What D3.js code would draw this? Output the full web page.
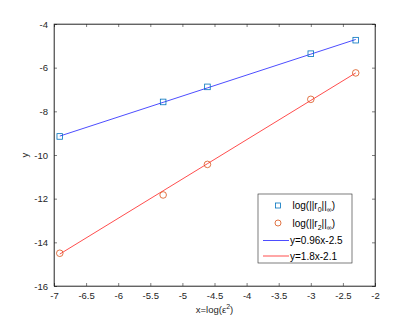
<!DOCTYPE html>
<html>
<head>
<meta charset="utf-8">
<script src="https://cdn.jsdelivr.net/npm/d3@7"></script>
<style>
  body { margin: 0; background: #fff; }
  text { font-family: "Liberation Sans", Helvetica, Arial, sans-serif; }
</style>
</head>
<body>
<div id="chart"></div>
<script>
// x = log(eps^2)
const xVals = [-6.91, -5.30, -4.61, -3.00, -2.30];
const r0Vals = [-9.15, -7.57, -6.88, -5.36, -4.74];
const r2Vals = [-14.5, -11.83, -10.43, -7.45, -6.24];
const fit0 = { a: 0.96, b: -2.5, label: "y=0.96x-2.5" };
const fit2 = { a: 1.8, b: -2.1, label: "y=1.8x-2.1" };
const xTicks = [-7, -6.5, -6, -5.5, -5, -4.5, -4, -3.5, -3, -2.5, -2];
const yTicks = [-16, -14, -12, -10, -8, -6, -4];

const W = 415, H = 321;
const margin = { top: 24, right: 40, bottom: 35, left: 54 };
const axisCol = "#262626";

const svg = d3.select("#chart").append("svg")
  .attr("width", W).attr("height", H);

const x = d3.scaleLinear().domain([-7, -2]).range([margin.left, W - margin.right]);
const y = d3.scaleLinear().domain([-16, -4]).range([H - margin.bottom, margin.top]);

// box
svg.append("rect")
  .attr("x", x(-7)).attr("y", y(-4))
  .attr("width", x(-2) - x(-7)).attr("height", y(-16) - y(-4))
  .attr("fill", "#fff").attr("stroke", axisCol).attr("stroke-width", 0.6);

// axes, ticks inside
const xAx = svg.append("g").attr("transform", `translate(0,${y(-16)})`)
  .call(d3.axisBottom(x).tickValues(xTicks).tickSize(-3).tickPadding(6).tickFormat(d3.format("")));
const xAxTop = svg.append("g").attr("transform", `translate(0,${y(-4)})`)
  .call(d3.axisTop(x).tickValues(xTicks).tickSize(-3).tickFormat(""));
const yAx = svg.append("g").attr("transform", `translate(${x(-7)},0)`)
  .call(d3.axisLeft(y).tickValues(yTicks).tickSize(-3).tickPadding(6).tickFormat(d3.format("")));
const yAxR = svg.append("g").attr("transform", `translate(${x(-2)},0)`)
  .call(d3.axisRight(y).tickValues(yTicks).tickSize(-3).tickFormat(""));

[xAx, xAxTop, yAx, yAxR].forEach(g => {
  g.select(".domain").attr("stroke", axisCol).attr("stroke-width", 0.6);
  g.selectAll(".tick line").attr("stroke", axisCol).attr("stroke-width", 0.6);
  g.selectAll("text").attr("fill", axisCol).attr("font-size", 9.5)
    .style("font-family", '"Liberation Sans", Arial, sans-serif');
});
// minus signs as hyphens like the original
svg.selectAll(".tick text").text(function () { return d3.select(this).text().replace("−", "-"); });

// fitted lines
const line = d3.line().x(d => x(d[0])).y(d => y(d[1]));
const fitLine = f => xVals.map(v => [v, f.a * v + f.b]);
svg.append("path").attr("d", line(fitLine(fit0)))
  .attr("fill", "none").attr("stroke", "#0000ff").attr("stroke-width", 0.7);
svg.append("path").attr("d", line(fitLine(fit2)))
  .attr("fill", "none").attr("stroke", "#ff0000").attr("stroke-width", 0.7);

// markers
svg.selectAll("rect.r0").data(xVals).enter().append("rect")
  .attr("class", "r0")
  .attr("x", (d, i) => x(d) - 2.8).attr("y", (d, i) => y(r0Vals[i]) - 2.8)
  .attr("width", 5.6).attr("height", 5.6)
  .attr("fill", "none").attr("stroke", "#0072BD").attr("stroke-width", 0.8);
svg.selectAll("circle.r2").data(xVals).enter().append("circle")
  .attr("class", "r2")
  .attr("cx", d => x(d)).attr("cy", (d, i) => y(r2Vals[i]))
  .attr("r", 3.3)
  .attr("fill", "none").attr("stroke", "#D95319").attr("stroke-width", 0.8);

// axis labels
svg.append("text").attr("x", (x(-7) + x(-2)) / 2).attr("y", 313)
  .attr("text-anchor", "middle").attr("font-size", 9.5).attr("fill", axisCol)
  .call(t => {
    t.append("tspan").text("x=log(\u03B5");
    t.append("tspan").attr("dy", -4).attr("font-size", 7).text("2");
    t.append("tspan").attr("dy", 4).text(")");
  });
svg.append("text")
  .attr("transform", `translate(28,${(y(-4) + y(-16)) / 2}) rotate(-90)`)
  .attr("text-anchor", "middle").attr("font-size", 9.5).attr("fill", axisCol)
  .text("y");

// legend
const lg = svg.append("g");
lg.append("rect").attr("x", 258).attr("y", 194).attr("width", 94).attr("height", 69)
  .attr("fill", "#fff").attr("stroke", axisCol).attr("stroke-width", 0.6);

const normLabel = (t, sub) => {
  t.append("tspan").text("log(||r");
  t.append("tspan").attr("dy", 3).attr("font-size", 7).text(sub);
  t.append("tspan").attr("dy", -3).text("||");
  t.append("tspan").attr("dy", 3).attr("font-size", 7).text("\u221E");
  t.append("tspan").attr("dy", -3).text(")");
};
const rows = [205.5, 223, 240.5, 256];
lg.append("rect").attr("x", 275.5).attr("y", rows[0] - 2.5).attr("width", 5).attr("height", 5)
  .attr("fill", "none").attr("stroke", "#0072BD").attr("stroke-width", 0.8);
lg.append("circle").attr("cx", 278).attr("cy", rows[1]).attr("r", 3)
  .attr("fill", "none").attr("stroke", "#D95319").attr("stroke-width", 0.8);
lg.append("line").attr("x1", 263).attr("x2", 289).attr("y1", rows[2]).attr("y2", rows[2])
  .attr("stroke", "#0000ff").attr("stroke-width", 0.7);
lg.append("line").attr("x1", 263).attr("x2", 289).attr("y1", rows[3]).attr("y2", rows[3])
  .attr("stroke", "#ff0000").attr("stroke-width", 0.7);

const lt = (row, xx) => lg.append("text").attr("x", xx).attr("y", row + 3.5)
  .attr("font-size", 10).attr("fill", "#000");
lt(rows[0], 292.5).call(t => normLabel(t, "0"));
lt(rows[1], 292.5).call(t => normLabel(t, "2"));
lt(rows[2], 290).text(fit0.label);
lt(rows[3], 290).text(fit2.label);
</script>
</body>
</html>
